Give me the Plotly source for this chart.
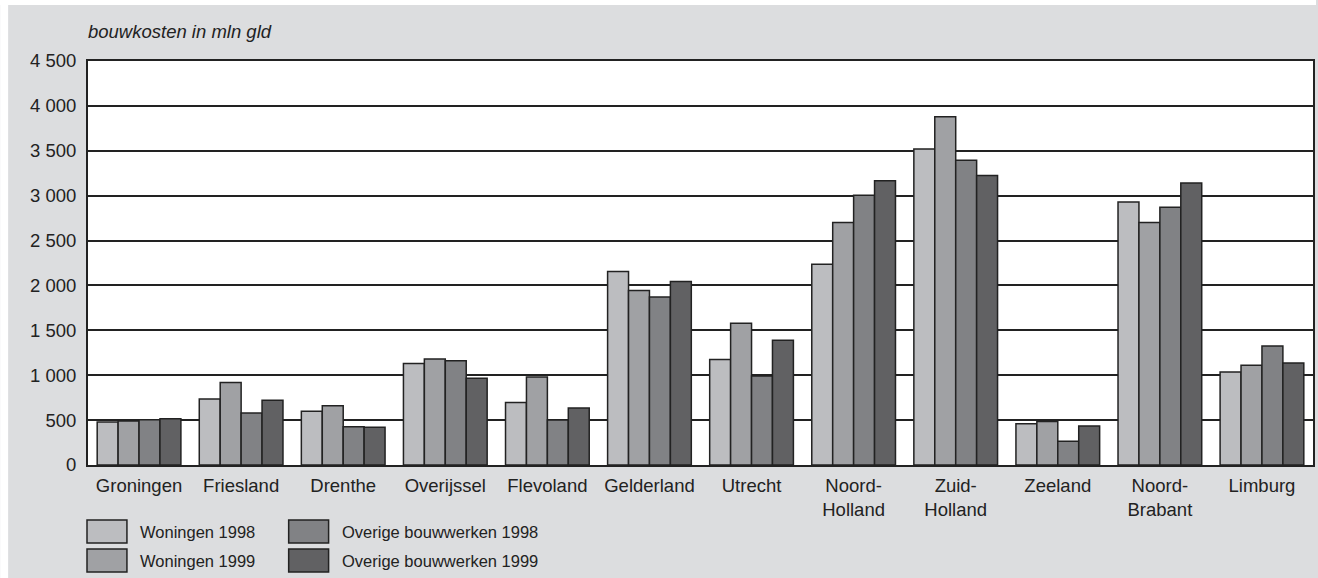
import plotly.graph_objects as go

provinces = ["Groningen", "Friesland", "Drenthe", "Overijssel", "Flevoland", "Gelderland",
             "Utrecht", "Noord-<br>Holland", "Zuid-<br>Holland", "Zeeland", "Noord-<br>Brabant", "Limburg"]
series_names = ["Woningen 1998", "Woningen 1999", "Overige bouwwerken 1998", "Overige bouwwerken 1999"]
woningen_1998 = [480, 735, 600, 1130, 695, 2155, 1175, 2235, 3520, 460, 2930, 1035]
woningen_1999 = [490, 920, 660, 1180, 980, 1945, 1580, 2700, 3880, 485, 2700, 1110]
overige_1998 = [505, 580, 425, 1160, 500, 1870, 990, 3005, 3395, 265, 2870, 1325]
overige_1999 = [515, 720, 420, 965, 635, 2045, 1390, 3165, 3225, 435, 3140, 1135]
tick_vals = [0, 500, 1000, 1500, 2000, 2500, 3000, 3500, 4000, 4500]
tick_text = ["0", "500", "1 000", "1 500", "2 000", "2 500", "3 000", "3 500", "4 000", "4 500"]
colors = ["#bcbdc0", "#a0a1a4", "#818285", "#616163"]
values = [woningen_1998, woningen_1999, overige_1998, overige_1999]

W, H = 1318, 578
ML, MR, MT, MB = 88, 3, 61, 113
PW, PH = W - ML - MR, H - MT - MB

def px(x):
    return (x - ML) / PW

def py(y):
    return (H - MB - y) / PH

fig = go.Figure()
for name, vals, col in zip(series_names, values, colors):
    fig.add_trace(go.Bar(x=provinces, y=vals, name=name, marker_color=col,
                         marker_line_color="#222222", marker_line_width=1.5,
                         showlegend=False))

shapes = [
    dict(type="rect", xref="paper", yref="paper", x0=px(0), x1=px(W), y0=py(5), y1=py(0),
         fillcolor="white", line_width=0, layer="below"),
    dict(type="rect", xref="paper", yref="paper", x0=px(0), x1=px(8), y0=py(H), y1=py(0),
         fillcolor="white", line_width=0, layer="below"),
]
annotations = [
    dict(text="<i>bouwkosten in mln gld</i>", xref="paper", yref="paper", x=px(86), y=py(32),
         xanchor="left", yanchor="middle", showarrow=False,
         font=dict(family="Liberation Sans, Arial", size=18.5, color="#222222")),
]
box_x = [87, 87, 289, 289]
box_y = [520, 549, 520, 549]
for i, name in enumerate(series_names):
    x0, y0 = box_x[i], box_y[i]
    shapes.append(dict(type="rect", xref="paper", yref="paper", x0=px(x0), x1=px(x0 + 40),
                       y0=py(y0 + 23), y1=py(y0), fillcolor=colors[i],
                       line=dict(color="#222222", width=1.5)))
    annotations.append(dict(text=name, xref="paper", yref="paper", x=px(x0 + 51), y=py(y0 + 12),
                            xanchor="left", yanchor="middle", showarrow=False,
                            font=dict(family="Liberation Sans, Arial", size=16.5, color="#222222")))

fig.update_layout(
    width=W, height=H,
    margin=dict(l=ML, r=MR, t=MT, b=MB),
    paper_bgcolor="#dcdddf", plot_bgcolor="white",
    barmode="group", bargap=0.18, bargroupgap=0,
    font=dict(family="Liberation Sans, Arial", size=18.5, color="#222222"),
    shapes=shapes, annotations=annotations, showlegend=False,
)
fig.update_xaxes(showline=True, linecolor="#222222", linewidth=2, mirror=True,
                 ticks="outside", ticklen=3, tickcolor="rgba(0,0,0,0)",
                 tickfont=dict(size=18.5), showgrid=False)
fig.update_yaxes(range=[0, 4500], tickvals=tick_vals, ticktext=tick_text,
                 showline=True, linecolor="#222222", linewidth=2, mirror=True,
                 showgrid=True, gridcolor="#222222", gridwidth=1.5,
                 ticks="outside", ticklen=6, tickcolor="rgba(0,0,0,0)",
                 tickfont=dict(size=18.5), zeroline=False)
fig.write_html("out.html", config={"displayModeBar": False},
               post_script="document.body.style.margin='0';document.body.style.overflow='hidden';")
